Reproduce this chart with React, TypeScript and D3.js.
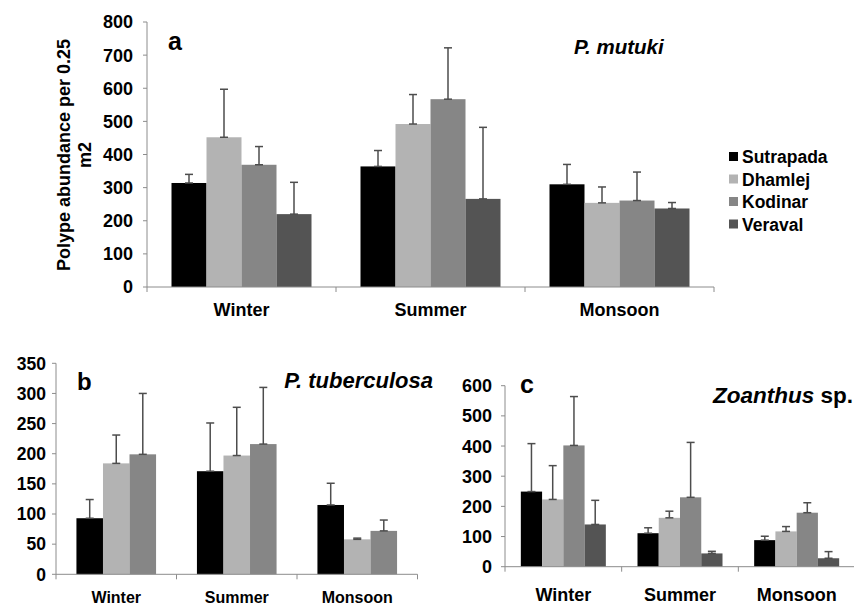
import React from "react";
import * as d3 from "d3";

const seasons = ["Winter", "Summer", "Monsoon"];
const sites = ["Sutrapada", "Dhamlej", "Kodinar", "Veraval"];
const siteColors = ["#000000", "#b3b3b3", "#868686", "#545454"];

// Panel a: P. mutuki (rows = seasons, columns = sites)
const mutukiMean = [
  [314, 452, 369, 220],
  [364, 492, 567, 266],
  [310, 254, 261, 237],
];
const mutukiErr = [
  [26, 145, 55, 96],
  [48, 89, 155, 216],
  [60, 48, 86, 18],
];
const mutukiTicks = [0, 100, 200, 300, 400, 500, 600, 700, 800];

// Panel b: P. tuberculosa (Sutrapada, Dhamlej, Kodinar)
const tuberculosaMean = [
  [93, 184, 199],
  [171, 197, 216],
  [115, 58, 72],
];
const tuberculosaErr = [
  [31, 47, 101],
  [80, 80, 94],
  [36, 2, 18],
];
const tuberculosaTicks = [0, 50, 100, 150, 200, 250, 300, 350];

// Panel c: Zoanthus sp.
const zoanthusMean = [
  [249, 223, 402, 140],
  [111, 162, 230, 44],
  [88, 117, 179, 28],
];
const zoanthusErr = [
  [159, 112, 162, 80],
  [18, 22, 182, 7],
  [13, 16, 33, 22],
];
const zoanthusTicks = [0, 100, 200, 300, 400, 500, 600];

const FONT = "'Liberation Sans', Arial, sans-serif";

type PanelProps = {
  means: number[][];
  errs: number[][];
  ticks: number[];
  x0: number;
  x1: number;
  yBottom: number;
  yTop: number;
  outerPad: number;
  tickFont: number;
  labelFont: number;
  labelY: number;
  tickGap: number;
};

function Panel(p: PanelProps) {
  const nSeries = p.means[0].length;
  const yMax = p.ticks[p.ticks.length - 1];
  const y = d3.scaleLinear().domain([0, yMax]).range([p.yBottom, p.yTop]);
  const xCat = d3.scaleBand<string>().domain(seasons).range([p.x0, p.x1]).padding(0);
  const xSer = d3
    .scaleBand<number>()
    .domain(d3.range(nSeries))
    .range([0, xCat.bandwidth()])
    .paddingInner(0)
    .paddingOuter(p.outerPad);
  const bw = xSer.bandwidth();
  const axisColor = "#8c8c8c";
  const boundaries = [...seasons.map((s) => xCat(s) as number), p.x1];
  return (
    <g>
      {seasons.map((s, si) =>
        p.means[si].map((v, k) => {
          const bx = (xCat(s) as number) + (xSer(k) as number);
          return (
            <rect
              key={`b${si}-${k}`}
              x={bx}
              y={y(v)}
              width={bw}
              height={y(0) - y(v)}
              fill={siteColors[k]}
            />
          );
        })
      )}
      {seasons.map((s, si) =>
        p.means[si].map((v, k) => {
          const cx = (xCat(s) as number) + (xSer(k) as number) + bw / 2;
          const top = y(v + p.errs[si][k]);
          return (
            <g key={`e${si}-${k}`} stroke="#4d4d4d" strokeWidth={1.5}>
              <line x1={cx} x2={cx} y1={y(v)} y2={top} />
              <line x1={cx - 4} x2={cx + 4} y1={top} y2={top} />
              <line x1={cx - 4} x2={cx + 4} y1={y(v)} y2={y(v)} />
            </g>
          );
        })
      )}
      {/* y axis */}
      <line x1={p.x0} x2={p.x0} y1={p.yTop} y2={p.yBottom} stroke={axisColor} strokeWidth={1} />
      {p.ticks.map((t) => (
        <g key={`t${t}`}>
          <line x1={p.x0 - 4} x2={p.x0} y1={y(t)} y2={y(t)} stroke={axisColor} />
          <text
            x={p.x0 - p.tickGap}
            y={y(t)}
            dy="0.36em"
            textAnchor="end"
            fontFamily={FONT}
            fontWeight="bold"
            fontSize={p.tickFont}
            fill="#000"
          >
            {t}
          </text>
        </g>
      ))}
      {/* x axis */}
      <line x1={p.x0} x2={p.x1} y1={p.yBottom} y2={p.yBottom} stroke={axisColor} strokeWidth={1} />
      {boundaries.map((bx, i) => (
        <line key={`xt${i}`} x1={bx} x2={bx} y1={p.yBottom} y2={p.yBottom + 5} stroke={axisColor} />
      ))}
      {seasons.map((s) => (
        <text
          key={`xl${s}`}
          x={(xCat(s) as number) + xCat.bandwidth() / 2}
          y={p.labelY}
          textAnchor="middle"
          fontFamily={FONT}
          fontWeight="bold"
          fontSize={p.labelFont}
          fill="#000"
        >
          {s}
        </text>
      ))}
    </g>
  );
}

export default function App() {
  return (
    <svg
      width={854}
      height={607}
      viewBox="0 0 854 607"
      style={{ position: "absolute", left: 0, top: 0, background: "#fff" }}
    >
      <rect x={0} y={0} width={854} height={607} fill="#fff" />
      {/* Panel a */}
      <Panel
        means={mutukiMean}
        errs={mutukiErr}
        ticks={mutukiTicks}
        x0={147}
        x1={714}
        yBottom={287}
        yTop={22}
        outerPad={0.7}
        tickFont={18}
        labelFont={18}
        labelY={316}
        tickGap={14}
      />
      <text x={168} y={50} fontFamily={FONT} fontWeight="bold" fontSize={25}>
        a
      </text>
      <text x={574} y={54} fontFamily={FONT} fontWeight="bold" fontStyle="italic" fontSize={20.5}>
        P. mutuki
      </text>
      <g fontFamily={FONT} fontWeight="bold" fontSize={18} textAnchor="middle">
        <text transform="translate(70,155) rotate(-90)">Polype abundance per 0.25</text>
        <text transform="translate(91,155) rotate(-90)">m2</text>
      </g>
      {sites.map((s, i) => (
        <g key={`lg${s}`}>
          <rect x={729} y={152 + i * 22.5} width={9} height={9} fill={siteColors[i]} />
          <text
            x={742}
            y={157 + i * 22.5}
            dy="0.36em"
            fontFamily={FONT}
            fontWeight="bold"
            fontSize={17.5}
          >
            {s}
          </text>
        </g>
      ))}

      {/* Panel b */}
      <Panel
        means={tuberculosaMean}
        errs={tuberculosaErr}
        ticks={tuberculosaTicks}
        x0={56}
        x1={417.5}
        yBottom={574.3}
        yTop={363.3}
        outerPad={0.77}
        tickFont={17.5}
        labelFont={16}
        labelY={603}
        tickGap={10}
      />
      <text x={77} y={390} fontFamily={FONT} fontWeight="bold" fontSize={24}>
        b
      </text>
      <text
        x={433}
        y={388}
        textAnchor="end"
        fontFamily={FONT}
        fontWeight="bold"
        fontStyle="italic"
        fontSize={22}
      >
        P. tuberculosa
      </text>

      {/* Panel c */}
      <Panel
        means={zoanthusMean}
        errs={zoanthusErr}
        ticks={zoanthusTicks}
        x0={505}
        x1={855}
        yBottom={566.7}
        yTop={385.7}
        outerPad={0.745}
        tickFont={18}
        labelFont={18}
        labelY={601}
        tickGap={13}
      />
      <text x={520} y={393} fontFamily={FONT} fontWeight="bold" fontSize={25}>
        c
      </text>
      <text x={853} y={403} textAnchor="end" fontFamily={FONT} fontWeight="bold" fontSize={22.5}>
        <tspan fontStyle="italic">Zoanthus</tspan>
        <tspan> sp.</tspan>
      </text>
    </svg>
  );
}
